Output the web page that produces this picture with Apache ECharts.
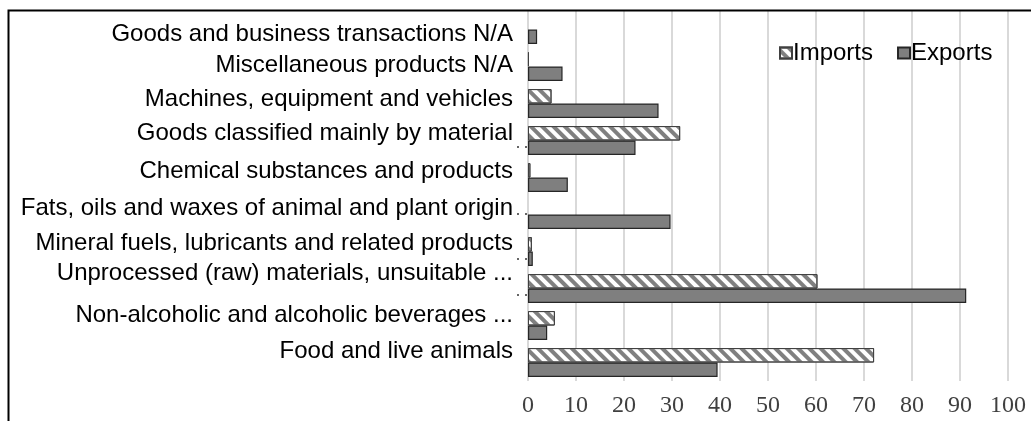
<!DOCTYPE html>
<html>
<head>
<meta charset="utf-8">
<script src="https://cdn.jsdelivr.net/npm/echarts@6/dist/echarts.min.js"></script>
<style>
html,body{margin:0;padding:0;background:#fff;}
#chart{width:1031px;height:421px;}
</style>
</head>
<body>
<div id="chart"></div>
<script>
// Categories, top to bottom as shown
var categories = [
  'Goods and business transactions N/A',
  'Miscellaneous products N/A',
  'Machines, equipment and vehicles',
  'Goods classified mainly by material',
  'Chemical substances and products',
  'Fats, oils and waxes of animal and plant origin',
  'Mineral fuels, lubricants and related products',
  'Unprocessed (raw) materials, unsuitable ...',
  'Non-alcoholic and alcoholic beverages ...',
  'Food and live animals'
];
var imports = [0, 0.2, 4.9, 31.7, 0.5, 0, 0.8, 60.3, 5.6, 72.1];
var exports = [1.9, 7.2, 27.2, 22.4, 8.3, 29.7, 1.0, 91.3, 4.0, 39.5];
var xTicks = {min: 0, max: 100, interval: 10};

// label vertical nudges (styling only, px; negative = up)
var labelNudge = [5, -1, -4, -7, -6, -6, -8, -15, -10, -11];

var rich = {};
labelNudge.forEach(function (n, i) {
  rich['n' + i] = {
    fontFamily: 'Liberation Sans', fontSize: 24, color: '#000',
    padding: n < 0 ? [0, 0, -2 * n, 0] : [2 * n, 0, 0, 0]
  };
});

function hideZero(arr) {
  return arr.map(function (v) { return v === 0 ? '-' : v; });
}

// small clipped-label dot fragments (decoration)
var dotGraphics = [];
[147, 214, 259, 295].forEach(function (y) {
  [518, 526].forEach(function (x) {
    dotGraphics.push({type: 'circle', silent: true, z: 50,
      shape: {cx: x, cy: y, r: 1}, style: {fill: '#333'}});
  });
});

var chart = echarts.init(document.getElementById('chart'), null, {renderer: 'canvas'});
chart.setOption({
  animation: false,
  backgroundColor: '#fff',
  grid: {left: 528, top: 11, right: 23, bottom: 40, containLabel: false},
  legend: {
    data: ['Imports', 'Exports'],
    left: 779, top: 41, padding: 0,
    icon: 'rect',
    itemWidth: 12, itemHeight: 11, itemGap: 24,
    textStyle: {fontFamily: 'Liberation Sans', fontSize: 24, color: '#000', padding: [0, 0, 0, -4]}
  },
  xAxis: {
    type: 'value', min: xTicks.min, max: xTicks.max, interval: xTicks.interval,
    axisLine: {show: false}, axisTick: {show: false},
    axisLabel: {fontFamily: 'Liberation Serif', fontSize: 24, color: '#404040', margin: 13},
    splitLine: {lineStyle: {color: '#d9d9d9', width: 2}}
  },
  yAxis: {
    type: 'category', data: categories, inverse: true,
    axisLine: {show: false}, axisTick: {show: false},
    axisLabel: {
      margin: 15,
      formatter: function (v, i) { return '{n' + i + '|' + v + '}'; },
      rich: rich
    }
  },
  series: [
    {
      name: 'Imports', type: 'bar', data: hideZero(imports),
      barGap: '0%', barCategoryGap: '22%',
      itemStyle: {
        color: '#ffffff', borderColor: '#404040', borderWidth: 1,
        decal: {symbol: 'rect', symbolSize: 1, dashArrayX: [1, 0], dashArrayY: [4, 4], rotation: Math.PI / 4, color: '#808080'}
      }
    },
    {
      name: 'Exports', type: 'bar', data: hideZero(exports),
      barGap: '0%', barCategoryGap: '22%',
      itemStyle: {color: '#7f7f7f', borderColor: '#262626', borderWidth: 1.2}
    }
  ],
  graphic: [{
    type: 'rect', silent: true, z: 100,
    shape: {x: 8.5, y: 10.5, width: 1100, height: 600},
    style: {fill: 'none', stroke: '#000', lineWidth: 2}
  }].concat(dotGraphics)
});
</script>
</body>
</html>
